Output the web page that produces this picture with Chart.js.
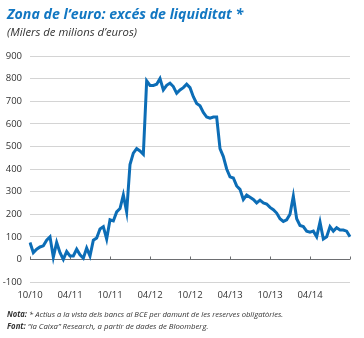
<!DOCTYPE html>
<html>
<head>
<meta charset="utf-8">
<script src="https://cdn.jsdelivr.net/npm/chart.js@4.4.1/dist/chart.umd.min.js"></script>
<style>
  html, body { margin: 0; padding: 0; background: #fff; }
  body { width: 364px; height: 338px; position: relative; overflow: hidden; font-family: "Open Sans", sans-serif; }
  #chartBox { position: absolute; left: 0; top: 0; width: 364px; height: 338px; }
  .txt { position: absolute; left: 7px; white-space: nowrap; transform-origin: 0 50%; line-height: 1; color: #333; }
  .title { top: 8px; font-size: 13.5px; font-weight: 700; font-style: italic; color: #1277c2; }
  .subtitle { top: 27px; font-size: 10px; font-style: italic; color: #333; }
  .note { font-size: 8px; font-style: italic; }
  .note b { font-weight: 700; }
  #note1 { top: 310px; }
  #note2 { top: 322px; }
</style>
</head>
<body>
<div id="chartBox"><canvas id="liquidityChart"></canvas></div>
<div class="txt title" data-w="236">Zona de l’euro: excés de liquiditat *</div>
<div class="txt subtitle" data-w="130">(Milers de milions d’euros)</div>
<div class="txt note" id="note1" data-w="276"><b>Nota:</b> * Actius a la vista dels bancs al BCE per damunt de les reserves obligatòries.</div>
<div class="txt note" id="note2" data-w="201"><b>Font:</b> “la Caixa” Research, a partir de dades de Bloomberg.</div>
<script>
// half-month steps starting October 2010
const tickLabels = ["10/10", "04/11", "10/11", "04/12", "10/12", "04/13", "10/13", "04/14"];
const tickEvery = 12;

const liquidity = [
  75, 30, 45, 55, 60, 85, 100, 10, 75, 30,
  0, 35, 15, 15, 45, 20, 5, 50, 15, 85,
  95, 135, 145, 90, 175, 170, 210, 225, 285, 210,
  420, 470, 490, 480, 465, 790, 770, 770, 775, 800,
  750, 770, 780, 765, 735, 750, 760, 775, 760, 720,
  690, 680, 650, 630, 625, 630, 630, 490, 455, 400,
  365, 360, 325, 310, 265, 285, 275, 265, 250, 262,
  250, 245, 230, 220, 205, 180, 168, 175, 200, 280,
  180, 150, 145, 125, 120, 125, 100, 165, 90, 100,
  145, 125, 140, 130, 130, 125, 100,
];

const yMin = -100;
const yMax = 900;
const yStep = 100;

const periods = liquidity.map((_, i) => {
  const month = 9 + Math.floor(i / 2);
  const year = 2010 + Math.floor(month / 12);
  return `${year}-${String((month % 12) + 1).padStart(2, "0")}-${i % 2 ? "15" : "01"}`;
});

const palette = {
  line: "#0c6db6",
  grid: "#d4d4d4",
  zero: "#6d6e71",
  text: "#333333",
};

const zeroTicks = {
  id: "zeroTicks",
  beforeDatasetsDraw(chart) {
    const { ctx, scales: { x, y } } = chart;
    const y0 = Math.round(y.getPixelForValue(0)) + 0.5;
    ctx.save();
    ctx.strokeStyle = palette.zero;
    ctx.lineWidth = 1;
    for (let i = 0; i < periods.length; i += tickEvery) {
      const px = Math.round(x.getPixelForValue(i)) + 0.5;
      ctx.beginPath();
      ctx.moveTo(px, y0);
      ctx.lineTo(px, y0 - 3);
      ctx.stroke();
    }
    ctx.restore();
  },
};

function fitTexts() {
  document.querySelectorAll(".txt").forEach((el) => {
    const target = Number(el.dataset.w);
    const natural = el.offsetWidth;
    if (target && natural) {
      el.style.transform = `scaleX(${target / natural})`;
    }
  });
}

new Chart(document.getElementById("liquidityChart"), {
  type: "line",
  data: {
    labels: periods,
    datasets: [
      {
        data: liquidity,
        borderColor: palette.line,
        borderWidth: 3,
        pointRadius: 0,
        tension: 0,
        fill: false,
      },
    ],
  },
  options: {
    responsive: true,
    maintainAspectRatio: false,
    animation: false,
    layout: { padding: { top: 56, right: 14, bottom: 36, left: 0 } },
    plugins: {
      legend: { display: false },
      tooltip: { enabled: false },
    },
    scales: {
      x: {
        type: "category",
        grid: { display: false, drawTicks: false },
        border: { display: false },
        ticks: {
          autoSkip: false,
          maxRotation: 0,
          padding: 8,
          color: palette.text,
          font: { family: "Open Sans", size: 9.5 },
          callback: (value, index) =>
            index % tickEvery === 0 ? tickLabels[index / tickEvery] : null,
        },
        afterFit: (scale) => {
          scale.height = 20;
        },
      },
      y: {
        min: yMin,
        max: yMax,
        grid: {
          drawTicks: false,
          lineWidth: 1,
          color: (ctx) => (ctx.tick && ctx.tick.value === 0 ? palette.zero : palette.grid),
        },
        border: { display: false },
        ticks: {
          stepSize: yStep,
          padding: 8,
          color: palette.text,
          font: { family: "Open Sans", size: 9.5 },
        },
        afterFit: (scale) => {
          scale.width = 30;
        },
      },
    },
  },
  plugins: [zeroTicks],
});

fitTexts();
if (document.fonts && document.fonts.ready) {
  document.fonts.ready.then(fitTexts);
}
</script>
</body>
</html>
